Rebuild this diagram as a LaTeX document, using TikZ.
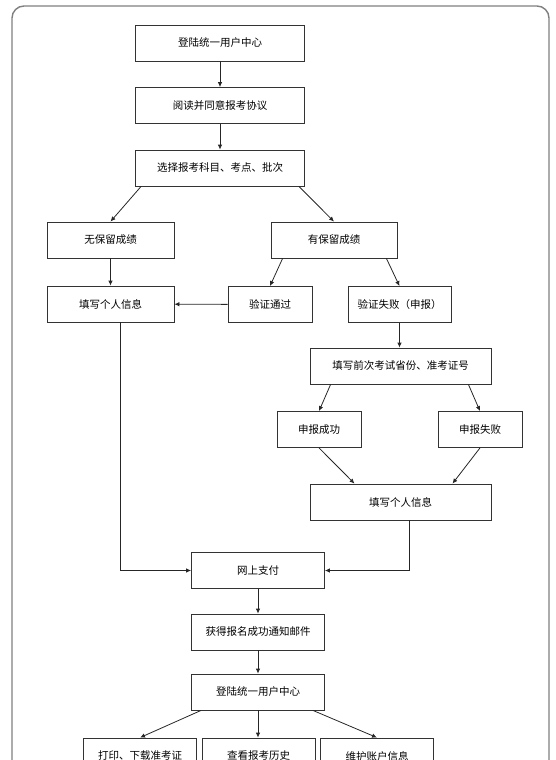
\documentclass[tikz,border=0pt]{standalone}
\usepackage{fontspec}
\newfontfamily\cjk{Noto Sans CJK SC}
\usepackage{tikz}
\usetikzlibrary{arrows.meta,calc}
\tikzset{
  stepbox/.style={draw=black!80, line width=0.8pt, fill=white, align=center,
                  inner sep=0pt, minimum height=36pt},
  flow/.style={->, draw=black!85, line width=0.8pt},
  frame/.style={draw=black!50, line width=1.4pt, rounded corners=12pt},
}

\begin{document}
\begin{tikzpicture}[x=1pt, y=-1pt, font=\cjk\fontsize{10.5}{12}\selectfont,
    >={Latex[length=5pt,width=4.5pt]}]
    \useasboundingbox (0,0) rectangle (555,760);
    \clip (0,0) rectangle (555,760);
    \draw[frame] (12,6) rectangle (549,820);
    % top chain
    \node[stepbox, minimum width=169pt] (login)  at (220,43)    {登陆统一用户中心};
    \node[stepbox, minimum width=169pt] (agree)  at (220,105.5) {阅读并同意报考协议};
    \node[stepbox, minimum width=169pt] (choose) at (220,168)   {选择报考科目、考点、批次};
    % scores
    \node[stepbox, minimum width=127pt] (noscore)  at (110.5,240) {无保留成绩};
    \node[stepbox, minimum width=126pt] (hasscore) at (334,240)   {有保留成绩};
    \node[stepbox, minimum width=127pt] (infoL)    at (110.5,304) {填写个人信息};
    \node[stepbox, minimum width=84pt]  (pass)     at (270,304.5) {验证通过};
    \node[stepbox, minimum width=103pt] (fail)     at (399.5,304.5) {验证失败（申报）};
    % declaration
    \node[stepbox, minimum width=181pt] (prev)     at (400.5,366) {填写前次考试省份、准考证号};
    \node[stepbox, minimum width=84pt]  (declok)   at (319,429.5) {申报成功};
    \node[stepbox, minimum width=84pt]  (declfail) at (480,429.5) {申报失败};
    \node[stepbox, minimum width=181pt] (infoR)    at (400.5,502) {填写个人信息};
    % payment and after
    \node[stepbox, minimum width=133pt] (pay)    at (258,570.5) {网上支付};
    \node[stepbox, minimum width=133pt] (mail)   at (258,632)   {获得报名成功通知邮件};
    \node[stepbox, minimum width=133pt] (login2) at (258,692)   {登陆统一用户中心};
    \node[stepbox, minimum width=113pt] (print)   at (140,756)   {打印、下载准考证};
    \node[stepbox, minimum width=113pt] (history) at (258.5,756) {查看报考历史};
    \node[stepbox, minimum width=113pt] (account) at (377,756)   {维护账户信息};

    \draw[flow] (login) -- (agree);
    \draw[flow] (agree) -- (choose);
    \draw[flow] ($(choose.south west)+(6,0)$) -- (noscore.north);
    \draw[flow] ($(choose.south east)+(-6,0)$) -- (hasscore.north);
    \draw[flow] (noscore) -- (infoL);
    \draw[flow] ($(hasscore.south west)+(12,0)$) -- (pass.north);
    \draw[flow] ($(hasscore.south east)+(-11,0)$) -- (fail.north);
    \draw[flow] (pass) -- (infoL);
    \draw[flow] (fail.south) -- (fail.south |- prev.north);
    \draw[flow] ($(prev.south west)+(21,0)$) -- (declok.north);
    \draw[flow] ($(prev.south east)+(-23,0)$) -- (declfail.north);
    \draw[flow] (declok.south) -- ($(infoR.north)+(-46,0)$);
    \draw[flow] (declfail.south) -- ($(infoR.north)+(52,0)$);
    \draw[flow] ($(infoL.south)+(10,0)$) |- (pay.west);
    \draw[flow] ($(infoR.south)+(8.5,0)$) |- (pay.east);
    \draw[flow] (pay) -- (mail);
    \draw[flow] (mail) -- (login2);
    \draw[flow] ($(login2.south west)+(10,0)$) -- (print.north);
    \draw[flow] (login2.south) -- (login2.south |- history.north);
    \draw[flow] ($(login2.south east)+(-12,0)$) -- (account.north);
\end{tikzpicture}
\end{document}
